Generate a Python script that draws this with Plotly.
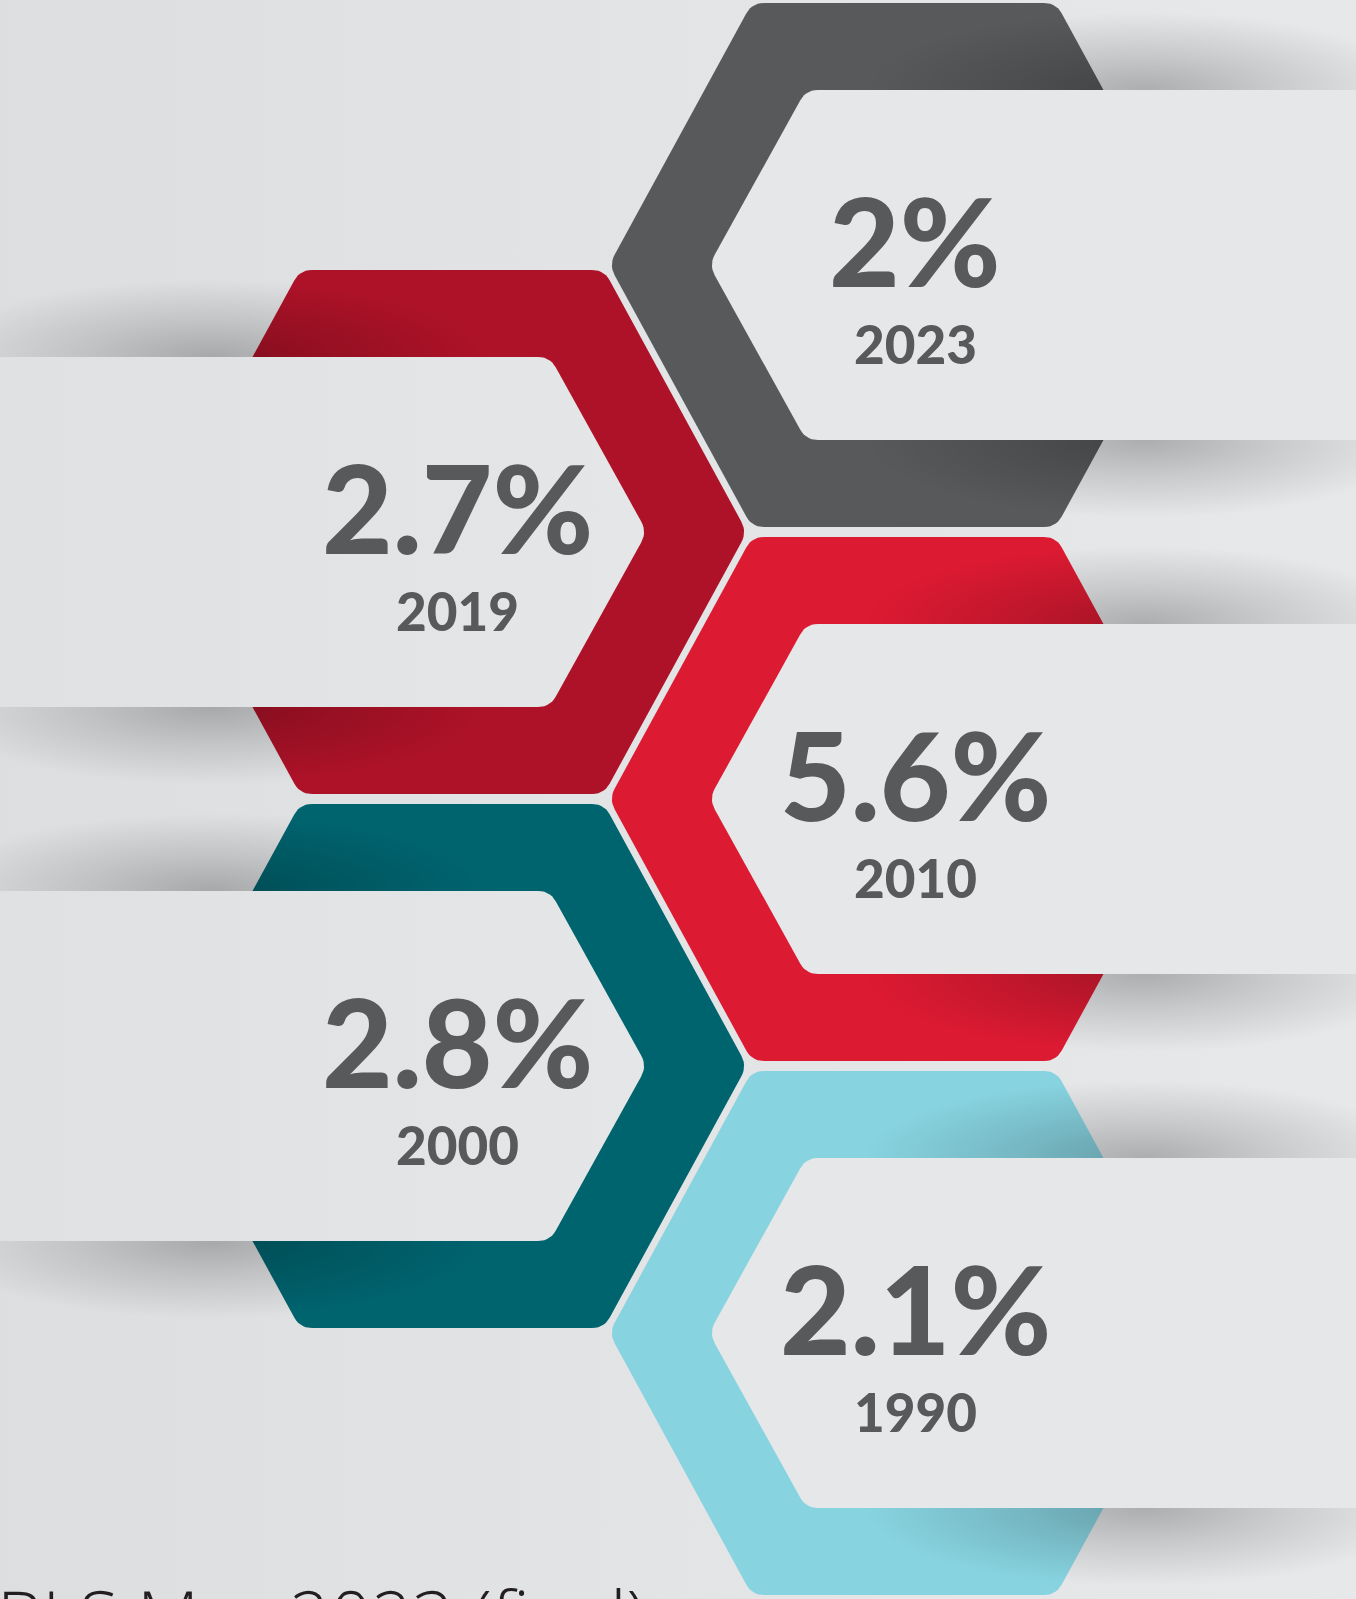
import numpy as np
import plotly.graph_objects as go

# rates by year, top to bottom
years = ["2023", "2019", "2010", "2000", "1990"]
rates = ["2%", "2.7%", "5.6%", "2.8%", "2.1%"]
hex_colors = ["#58595b", "#ae1228", "#dc1a32", "#00646f", "#87d3e0"]
source = "BLS May 2023 (final)"

W, H = 1356, 1599

# honeycomb geometry, in pixels
R = 295      # centre to side vertex
A = 152      # half of the flat top edge
HH = 262     # half height of a hexagon
PH = 175     # half height of the light band
PV = 195     # band tip distance from centre
PC = 98      # band corner distance from centre
top_y = 265
step = 267
right_cx = 904
left_cx = 452
txt_col = "#58595b"
num_font = "Lato, Inter, sans-serif"


def rounded(pts, r, n=8):
    pts = np.asarray(pts, float)
    out = []
    m = len(pts)
    for k in range(m):
        p, v, nx = pts[k - 1], pts[k], pts[(k + 1) % m]
        d1 = (p - v) / np.linalg.norm(p - v)
        d2 = (nx - v) / np.linalg.norm(nx - v)
        a = v + d1 * r
        b = v + d2 * r
        for t in np.linspace(0, 1, n):
            out.append((1 - t) ** 2 * a + 2 * (1 - t) * t * v + t ** 2 * b)
    out.append(out[0])
    out = np.array(out)
    return out[:, 0], out[:, 1]


def ellipse(cx, cy, rx, ry, n=60):
    t = np.linspace(0, 2 * np.pi, n)
    return cx + rx * np.cos(t), cy + ry * np.sin(t)


fig = go.Figure()

# background
fig.add_trace(go.Scatter(
    x=[0, W, W, 0, 0], y=[0, 0, H, H, 0], mode="lines", fill="toself",
    line=dict(width=0),
    fillgradient=dict(type="horizontal",
                      colorscale=[[0, "#dddee0"], [0.5, "#e3e4e6"], [1, "#e7e8ea"]]),
    hoverinfo="skip"))

rows = []
for i in range(len(years)):
    side = 1 if i % 2 == 0 else -1          # 1 = hexagon on the right, band goes right
    cx = right_cx if side == 1 else left_cx
    cy = top_y + i * step
    rows.append((side, cx, cy))

# hexagons
for i, (side, cx, cy) in enumerate(rows):
    pts = [(cx - R, cy), (cx - A, cy - HH), (cx + A, cy - HH),
           (cx + R, cy), (cx + A, cy + HH), (cx - A, cy + HH)]
    x, y = rounded(pts, 12)
    fig.add_trace(go.Scatter(x=x, y=y, mode="lines", fill="toself",
                             fillcolor=hex_colors[i], line=dict(width=0),
                             hoverinfo="skip"))

# soft shadows cast by the bands
for i, (side, cx, cy) in enumerate(rows):
    sx = cx + side * 240
    for sy in (cy - PH, cy + PH):
        x, y = ellipse(sx, sy, 280, 78)
        fig.add_trace(go.Scatter(
            x=x, y=y, mode="lines", fill="toself", line=dict(width=0),
            fillgradient=dict(type="radial",
                              colorscale=[[0, "rgba(0,0,0,0.25)"],
                                          [0.45, "rgba(0,0,0,0.13)"],
                                          [1, "rgba(0,0,0,0)"]]),
            hoverinfo="skip"))

# light bands
for i, (side, cx, cy) in enumerate(rows):
    far = W + 60 if side == 1 else -60
    pts = [(cx - side * PV, cy), (cx - side * PC, cy - PH), (far, cy - PH),
           (far, cy + PH), (cx - side * PC, cy + PH)]
    x, y = rounded(pts, 12)
    if side == 1:
        fig.add_trace(go.Scatter(x=x, y=y, mode="lines", fill="toself",
                                 fillcolor="#e6e7e9", line=dict(width=0),
                                 hoverinfo="skip"))
    else:
        fig.add_trace(go.Scatter(
            x=x, y=y, mode="lines", fill="toself", line=dict(width=0),
            fillgradient=dict(type="horizontal",
                              colorscale=[[0, "#dfe0e2"], [1, "#e5e6e8"]]),
            hoverinfo="skip"))

# labels
for i, (side, cx, cy) in enumerate(rows):
    tx = cx + (11 if side == 1 else 5)
    fig.add_annotation(x=tx, y=cy - 25, text=rates[i], showarrow=False,
                       xanchor="center", yanchor="middle",
                       font=dict(family=num_font, size=122,
                                 color=txt_col, weight=900))
    fig.add_annotation(x=tx, y=cy + 78, text=years[i], showarrow=False,
                       xanchor="center", yanchor="middle",
                       font=dict(family=num_font, size=53,
                                 color=txt_col, weight=900))

# source line, cut by the bottom edge as in the original
fig.add_annotation(x=0, y=1564, xshift=-5, text=source, showarrow=False,
                   xanchor="left", yanchor="top",
                   font=dict(family="Open Sans, sans-serif", size=72,
                             color="#231f20", weight=300))

fig.update_layout(
    width=W, height=H, margin=dict(l=0, r=0, t=0, b=0),
    paper_bgcolor="#e4e5e7", plot_bgcolor="#e4e5e7",
    showlegend=False,
    xaxis=dict(range=[0, W], visible=False, fixedrange=True),
    yaxis=dict(range=[H, 0], visible=False, fixedrange=True),
)

fig.write_html("out.html", config={"displayModeBar": False},
               post_script="document.body.style.margin='0';"
                           "document.body.style.overflow='hidden';")
